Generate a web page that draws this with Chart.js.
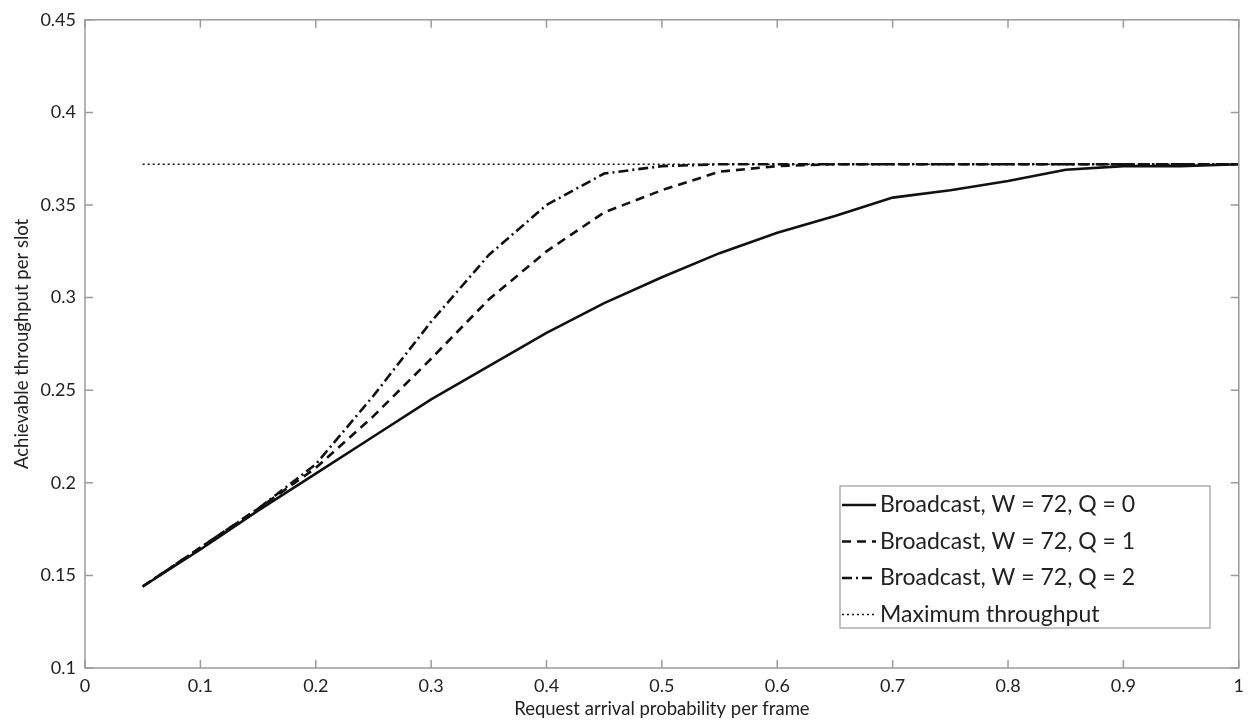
<!DOCTYPE html>
<html>
<head>
<meta charset="utf-8">
<script src="https://cdn.jsdelivr.net/npm/chart.js@4.4.1/dist/chart.umd.min.js"></script>
<style>
  html, body { margin: 0; padding: 0; background: #fff; }
  #wrap { width: 1251px; height: 720px; }
</style>
</head>
<body>
<div id="wrap"><canvas id="throughputChart" width="1251" height="720"></canvas></div>
<script>
// request arrival probability per frame
const arrivalProb = [0.05, 0.1, 0.15, 0.2, 0.25, 0.3, 0.35, 0.4, 0.45, 0.5,
                     0.55, 0.6, 0.65, 0.7, 0.75, 0.8, 0.85, 0.9, 0.95, 1.0];

// achievable throughput per slot
const q0 = [0.144, 0.164, 0.185, 0.205, 0.225, 0.245, 0.263, 0.281, 0.297, 0.311,
            0.324, 0.335, 0.344, 0.354, 0.358, 0.363, 0.369, 0.371, 0.371, 0.372];
const q1 = [0.144, 0.165, 0.186, 0.208, 0.236, 0.267, 0.299, 0.325, 0.346, 0.358,
            0.368, 0.371, 0.372, 0.372, 0.372, 0.372, 0.372, 0.372, 0.372, 0.372];
const q2 = [0.144, 0.165, 0.186, 0.210, 0.247, 0.287, 0.323, 0.350, 0.367, 0.371,
            0.372, 0.372, 0.372, 0.372, 0.372, 0.372, 0.372, 0.372, 0.372, 0.372];
const maxThroughput = 0.372;

const seriesLabels = ['Broadcast, W = 72, Q = 0', 'Broadcast, W = 72, Q = 1',
                      'Broadcast, W = 72, Q = 2', 'Maximum throughput'];
const xTicks = [0, 0.1, 0.2, 0.3, 0.4, 0.5, 0.6, 0.7, 0.8, 0.9, 1];
const yTicks = [0.1, 0.15, 0.2, 0.25, 0.3, 0.35, 0.4, 0.45];

const dashes = [[], [9, 6], [10, 4, 2, 4], [2, 3]];
const widths = [2.6, 2.6, 2.6, 1.5];

function pts(ys) {
    return arrivalProb.map((x, i) => ({x: x, y: ys[i]}));
}

const textFont = 'Lato, "Liberation Sans", sans-serif';
const axisGray = '#9a9a9a';

// box around plot with inward ticks on all sides
const boxTicks = {
    id: 'boxTicks',
    afterDraw(chart) {
        const {ctx, chartArea: a, scales} = chart;
        ctx.save();
        ctx.strokeStyle = axisGray;
        ctx.lineWidth = 1.5;
        ctx.setLineDash([]);
        ctx.strokeRect(a.left, a.top, a.right - a.left, a.bottom - a.top);
        const len = 8;
        ctx.beginPath();
        xTicks.forEach(v => {
            const px = scales.x.getPixelForValue(v);
            ctx.moveTo(px, a.bottom); ctx.lineTo(px, a.bottom - len);
            ctx.moveTo(px, a.top); ctx.lineTo(px, a.top + len);
        });
        yTicks.forEach(v => {
            const py = scales.y.getPixelForValue(v);
            ctx.moveTo(a.left, py); ctx.lineTo(a.left + len, py);
            ctx.moveTo(a.right, py); ctx.lineTo(a.right - len, py);
        });
        ctx.stroke();
        ctx.restore();
    }
};

// legend box in the lower right corner
const lineLegend = {
    id: 'lineLegend',
    afterDraw(chart) {
        const {ctx} = chart;
        const bx = 840, by = 486, bw = 370, bh = 142;
        ctx.save();
        ctx.fillStyle = '#fff';
        ctx.fillRect(bx, by, bw, bh);
        ctx.strokeStyle = axisGray;
        ctx.lineWidth = 1.2;
        ctx.strokeRect(bx, by, bw, bh);
        ctx.font = '23px ' + textFont;
        ctx.textBaseline = 'middle';
        seriesLabels.forEach((lbl, i) => {
            const cy = by + 19 + i * 36.5;
            ctx.strokeStyle = '#111';
            ctx.lineWidth = widths[i];
            ctx.setLineDash(dashes[i]);
            ctx.beginPath();
            ctx.moveTo(bx + 2, cy);
            ctx.lineTo(bx + 36, cy);
            ctx.stroke();
            ctx.setLineDash([]);
            ctx.fillStyle = '#222';
            ctx.fillText(lbl, bx + 40, cy);
        });
        ctx.restore();
    }
};

const ctx = document.getElementById('throughputChart').getContext('2d');
const throughputChart = new Chart(ctx, {
    type: 'line',
    data: {
        datasets: [
            {label: seriesLabels[0], data: pts(q0)},
            {label: seriesLabels[1], data: pts(q1)},
            {label: seriesLabels[2], data: pts(q2)},
            {label: seriesLabels[3], data: arrivalProb.map(x => ({x: x, y: maxThroughput}))}
        ].map((d, i) => Object.assign(d, {
            borderColor: '#111',
            borderWidth: widths[i],
            borderDash: dashes[i],
            pointRadius: 0,
            fill: false,
            tension: 0
        }))
    },
    options: {
        responsive: false,
        animation: false,
        layout: {padding: {top: 16, right: 11, left: 0, bottom: 0}},
        plugins: {
            legend: {display: false},
            tooltip: {enabled: false}
        },
        scales: {
            x: {
                type: 'linear',
                min: 0,
                max: 1,
                afterFit(s) { s.height = 52; },
                afterBuildTicks(s) { s.ticks = xTicks.map(v => ({value: v})); },
                grid: {display: false, drawTicks: false},
                border: {display: false},
                ticks: {
                    padding: 7,
                    color: '#222',
                    font: {family: textFont, size: 18},
                    callback: v => String(+v.toFixed(2))
                },
                title: {
                    display: true,
                    text: 'Request arrival probability per frame',
                    color: '#222',
                    font: {family: textFont, size: 18.5},
                    padding: {top: 0, bottom: 0}
                }
            },
            y: {
                min: 0.1,
                max: 0.45,
                afterFit(s) { s.width = 85; },
                afterBuildTicks(s) { s.ticks = yTicks.map(v => ({value: v})); },
                grid: {display: false, drawTicks: false},
                border: {display: false},
                ticks: {
                    padding: 9,
                    color: '#222',
                    font: {family: textFont, size: 18},
                    callback: v => String(+v.toFixed(2))
                },
                title: {
                    display: true,
                    text: 'Achievable throughput per slot',
                    color: '#222',
                    font: {family: textFont, size: 18.5},
                    padding: {top: 11, bottom: 0}
                }
            }
        }
    },
    plugins: [boxTicks, lineLegend]
});
</script>
</body>
</html>
